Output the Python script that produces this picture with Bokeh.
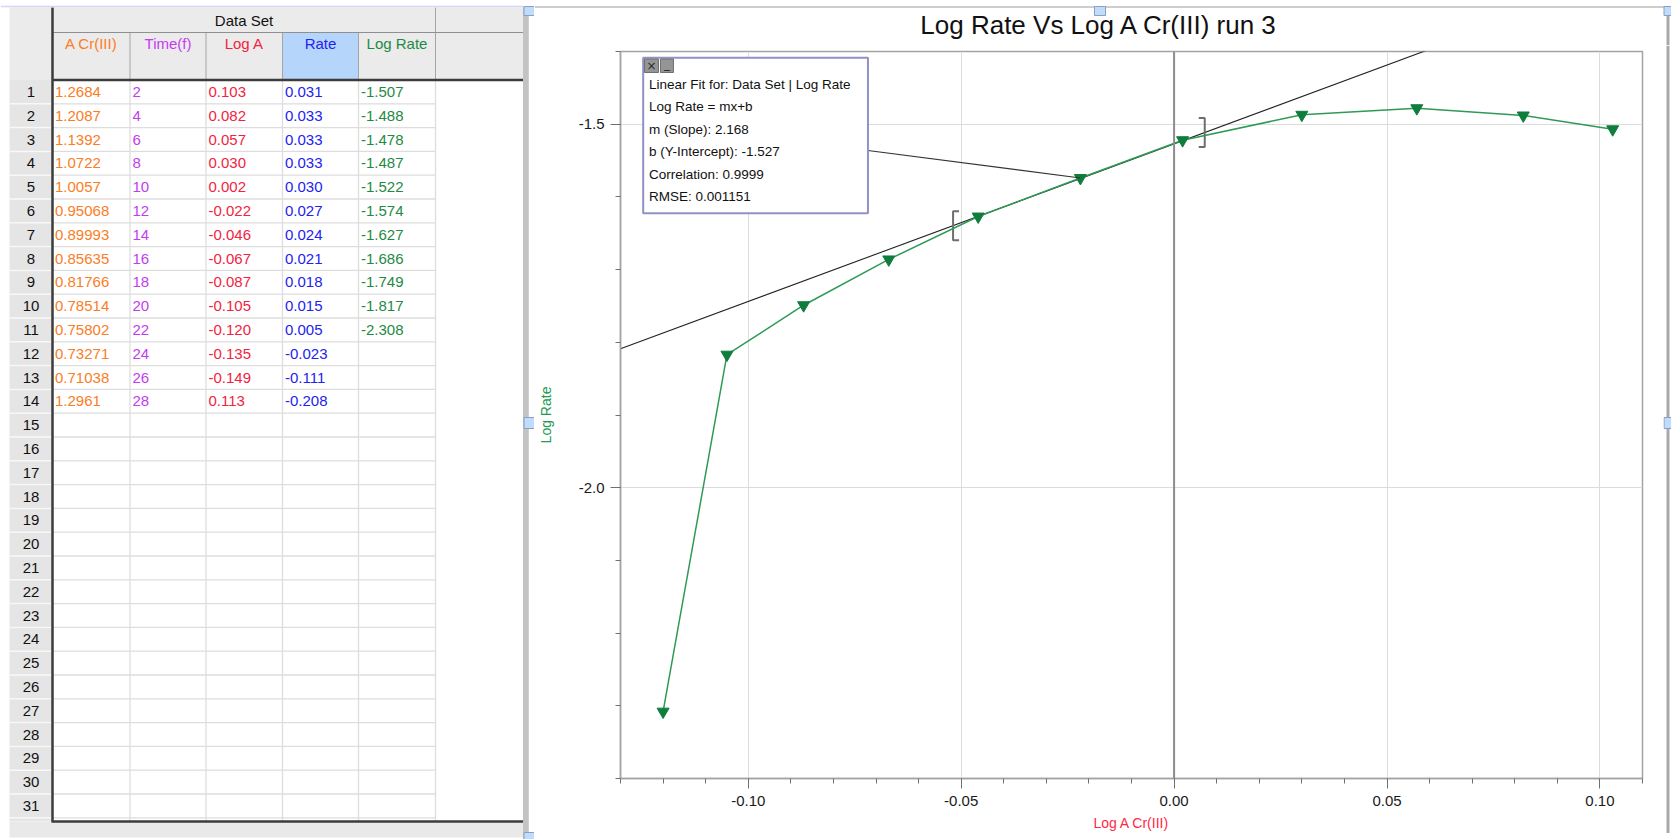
import numpy as np
from bokeh.plotting import figure
from bokeh.layouts import row, column
from bokeh.models import Range1d, FixedTicker, Span
from bokeh.core.properties import value
from bokeh.embed import file_html
from bokeh.resources import INLINE

# ---------------- data ----------------
row_numbers = list(range(1, 32))
a_cr = [1.2684, 1.2087, 1.1392, 1.0722, 1.0057, 0.95068, 0.89993, 0.85635,
        0.81766, 0.78514, 0.75802, 0.73271, 0.71038, 1.2961]
time_f = [2, 4, 6, 8, 10, 12, 14, 16, 18, 20, 22, 24, 26, 28]
log_a = [0.103, 0.082, 0.057, 0.030, 0.002, -0.022, -0.046, -0.067,
         -0.087, -0.105, -0.120, -0.135, -0.149, 0.113]
rate = [0.031, 0.033, 0.033, 0.033, 0.030, 0.027, 0.024, 0.021,
        0.018, 0.015, 0.005, -0.023, -0.111, -0.208]
log_rate = [-1.507, -1.488, -1.478, -1.487, -1.522, -1.574, -1.627,
            -1.686, -1.749, -1.817, -2.308]
column_names = ["A Cr(III)", "Time(f)", "Log A", "Rate", "Log Rate"]
column_colors = ["#fb7d24", "#c33cf2", "#f2233f", "#2323f0", "#1f8a43"]
table_title = "Data Set"

fit_slope = 2.168
fit_intercept = -1.527
fit_corr = 0.9999
fit_rmse = 0.001151
fit_range = [-0.0519, 0.0072]
fit_point = 5          # point the fit box is attached to

x_tick_values = [-0.10, -0.05, 0.00, 0.05, 0.10]
x_tick_labels = ["-0.10", "-0.05", "0.00", "0.05", "0.10"]
y_tick_values = [-2.0, -1.5]
y_tick_labels = ["-2.0", "-1.5"]

chart_title = "Log Rate Vs Log A Cr(III) run 3"
x_label = "Log A Cr(III)"
y_label = "Log Rate"

FONT = value("Liberation Sans")
H = 839
W1 = 534
W2 = 1671 - W1
HANDLE_FILL = "#c0dcfc"
HANDLE_LINE = "#8aa0be"


def canvas(width, height, x0, y0):
    """a plain figure whose coordinates are page pixels"""
    f = figure(width=width, height=height, x_range=Range1d(x0, x0 + width),
               y_range=Range1d(y0 + height, y0), output_backend="svg",
               toolbar_location=None, min_border=0, x_axis_location=None,
               y_axis_location=None, outline_line_color=None,
               background_fill_color="white", border_fill_color="white",
               frame_align=False)
    f.grid.visible = False
    return f


# ---------------- table panel ----------------
t = canvas(W1, H, 0, 0)

col_edges = [52, 129.5, 205.5, 282, 358, 435]
RH = 23.8
BT = 79.5
BB = 821

t.quad(left=[9], right=[522.5], top=[7], bottom=[BT], fill_color="#ebebeb", line_color=None)
t.quad(left=[9], right=[52], top=[BT], bottom=[BB], fill_color="#e5e5e5", line_color=None)
t.quad(left=[9], right=[522.5], top=[BB], bottom=[837], fill_color="#e9e9e9", line_color=None)
t.quad(left=[col_edges[3]], right=[col_edges[4]], top=[32], bottom=[BT],
       fill_color="#b5d5fb", line_color=None)

row_y = [BT + k * RH for k in range(1, 32)]
t.segment(x0=[52] * len(row_y), y0=row_y, x1=[435] * len(row_y), y1=row_y,
          line_color="#dddddd", line_width=1.3)
t.segment(x0=[9] * len(row_y), y0=row_y, x1=[52] * len(row_y), y1=row_y,
          line_color="#f8f8f8", line_width=1.5)
t.segment(x0=col_edges[1:], y0=[BT] * 5, x1=col_edges[1:], y1=[BB] * 5,
          line_color="#dddddd", line_width=1.3)
t.segment(x0=col_edges[1:5], y0=[32] * 4, x1=col_edges[1:5], y1=[BT] * 4,
          line_color="#a5a5a5", line_width=1)
t.segment(x0=[435], y0=[7], x1=[435], y1=[BT], line_color="#a5a5a5", line_width=1)
t.segment(x0=[52], y0=[32], x1=[522.5], y1=[32], line_color="#8f8f8f", line_width=1.2)
t.segment(x0=[52, 52], y0=[BT, BB], x1=[522.5, 522.5], y1=[BT, BB],
          line_color="#3c3c3c", line_width=2.5)
t.segment(x0=[52], y0=[7], x1=[52], y1=[BB + 1], line_color="#3c3c3c", line_width=2.5)
t.segment(x0=[0], y0=[6], x1=[522.5], y1=[6], line_color="#d4d4f4", line_width=1.5)

t.quad(left=[522.5], right=[528.3], top=[6], bottom=[H], fill_color="#c3c3c3", line_color=None)
t.segment(x0=[528.3, 528.3], y0=[6.5, 837.5], x1=[W1, W1], y1=[6.5, 837.5],
          line_color="#bdbdbd", line_width=1.5)
for (hy0, hy1) in [(6, 15), (417, 428), (832, 839)]:
    t.quad(left=[523.5], right=[534], top=[hy0], bottom=[hy1],
           fill_color=HANDLE_FILL, line_color=HANDLE_LINE, line_width=1)

t.text(x=[(col_edges[0] + col_edges[5]) / 2], y=[19.5], text=[table_title],
       text_font=FONT, text_font_size="15px", text_color="#111111",
       text_align="center", text_baseline="middle")
centers = [(col_edges[i] + col_edges[i + 1]) / 2 for i in range(5)]
t.text(x=centers, y=[43] * 5, text=column_names, text_color=column_colors,
       text_font=FONT, text_font_size="15px", text_align="center", text_baseline="middle")
t.text(x=[30.5] * len(row_numbers), y=[BT + (k - 0.5) * RH for k in row_numbers],
       text=[str(k) for k in row_numbers], text_font=FONT, text_font_size="15px",
       text_color="#111111", text_align="center", text_baseline="middle")

columns_text = [
    [f"{v:.5g}" for v in a_cr],
    [f"{v:d}" for v in time_f],
    [f"{v:.3f}" for v in log_a],
    [f"{v:.3f}" for v in rate],
    [f"{v:.3f}" for v in log_rate],
]
for ci, vals in enumerate(columns_text):
    t.text(x=[col_edges[ci] + 2.5] * len(vals),
           y=[BT + (k + 0.5) * RH for k in range(len(vals))],
           text=vals, text_color=column_colors[ci], text_font=FONT,
           text_font_size="15px", text_align="left", text_baseline="middle")

# ---------------- chart panel: top strip with title ----------------
TOP_H = 45
BOT_Y = 833
RIGHT_X = 1663

top = canvas(W2, TOP_H, W1, 0)
top.text(x=[1099], y=[24], text=[chart_title], text_font=FONT, text_font_size="26px",
         text_color="#111111", text_align="center", text_baseline="middle")
top.segment(x0=[W1], y0=[6.5], x1=[1668], y1=[6.5], line_color="#bdbdbd", line_width=1.5)
top.quad(left=[1666], right=[1669], top=[6], bottom=[TOP_H], fill_color="#a9a9a9", line_color=None)
top.quad(left=[1094, 1663.5], right=[1105, 1671], top=[6, 6], bottom=[15, 15],
         fill_color=HANDLE_FILL, line_color=HANDLE_LINE, line_width=1)

# ---------------- chart ----------------
XMIN, XMAX = -0.13, 0.11
YMIN, YMAX = -2.40, -1.40
FL, FR, FT, FB = 619, 1642, 51, 778


def dx(px):
    return XMIN + (px - FL) * (XMAX - XMIN) / (FR - FL)


def dy(py):
    return YMAX - (py - FT) * (YMAX - YMIN) / (FB - FT)


p = figure(width=RIGHT_X - W1, height=BOT_Y - TOP_H,
           x_range=Range1d(XMIN, XMAX), y_range=Range1d(YMIN, YMAX),
           output_backend="svg", toolbar_location=None,
           min_border_left=FL - W1, min_border_right=RIGHT_X - FR,
           min_border_top=FT - TOP_H, min_border_bottom=BOT_Y - FB,
           background_fill_color="white", border_fill_color="white",
           frame_align=False)

p.outline_line_color = "#a3a3a3"
p.outline_line_width = 1.5

p.xaxis.ticker = FixedTicker(ticks=x_tick_values,
                             minor_ticks=[round(v, 2) for v in np.arange(-0.13, 0.1101, 0.01)])
p.yaxis.ticker = FixedTicker(ticks=y_tick_values,
                             minor_ticks=[round(v, 1) for v in np.arange(-2.4, -1.3999, 0.1)])
p.xaxis.major_label_overrides = dict(zip(x_tick_values, x_tick_labels))
p.yaxis.major_label_overrides = dict(zip(y_tick_values, y_tick_labels))

for ax in (p.xaxis[0], p.yaxis[0]):
    ax.major_tick_out = 10
    ax.major_tick_in = 0
    ax.minor_tick_out = 5
    ax.minor_tick_in = 0
    ax.major_tick_line_color = "#707070"
    ax.minor_tick_line_color = "#707070"
    ax.axis_line_color = "#a3a3a3"
    ax.axis_line_width = 1.5
    ax.major_label_text_font = "Liberation Sans"
    ax.major_label_text_font_size = "15px"
    ax.major_label_text_color = "#1a1a1a"
    ax.axis_label_text_font = "Liberation Sans"
    ax.axis_label_text_font_size = "14px"
    ax.axis_label_text_font_style = "normal"

p.xaxis.axis_label = x_label
p.xaxis.axis_label_text_color = "#ff2845"
p.xaxis.major_label_standoff = 7
p.xaxis.axis_label_standoff = 6
p.yaxis.axis_label = y_label
p.yaxis.axis_label_text_color = "#229a4f"
p.yaxis.major_label_standoff = 6
p.yaxis.axis_label_standoff = 22

p.xgrid.grid_line_color = "#dcdcdc"
p.ygrid.grid_line_color = "#dcdcdc"
p.add_layout(Span(location=0, dimension="height", line_color="#8c8c8c", line_width=2))

# linear fit line
fx = np.array([XMIN, XMAX])
p.line(fx, fit_slope * fx + fit_intercept, line_color="#222222", line_width=1.1)

# fit range brackets
bh = (YMAX - YMIN) * 14.5 / (FB - FT)
bs = (XMAX - XMIN) * 6 / (FR - FL)
bx0, bx1 = fit_range
by0 = fit_slope * bx0 + fit_intercept
by1 = fit_slope * bx1 + fit_intercept
p.multi_line(xs=[[bx0 + bs, bx0, bx0, bx0 + bs], [bx1 - bs, bx1, bx1, bx1 - bs]],
             ys=[[by0 + bh, by0 + bh, by0 - bh, by0 - bh], [by1 + bh, by1 + bh, by1 - bh, by1 - bh]],
             line_color="#6e6e6e", line_width=2)

# data
n = len(log_rate)
p.line(log_a[:n], log_rate, line_color="#2e9a56", line_width=1.5)
p.scatter(log_a[:n], log_rate, marker="inverted_triangle", size=12,
          fill_color="#0f7d3c", line_color="#0f7d3c")

# fit information box
p.segment(x0=[dx(866.7)], y0=[dy(150)], x1=[log_a[fit_point]], y1=[log_rate[fit_point]],
          line_color="#333333", line_width=1.2)
p.quad(left=[dx(641.7)], right=[dx(866.7)], top=[dy(57.3)], bottom=[dy(212.7)],
       fill_color="white", line_color="#9191c6", line_width=2)
p.quad(left=[dx(643), dx(659)], right=[dx(657), dx(672)], top=[dy(58.5)] * 2,
       bottom=[dy(72)] * 2, fill_color="#959595", line_color="#6f6f6f", line_width=1)
p.text(x=[dx(650), dx(665.5)], y=[dy(65), dy(63)], text=["×", "_"], text_color="#2a2a2a",
       text_font=value("DejaVu Sans"), text_font_size="12px",
       text_align="center", text_baseline="middle")
box_lines = [
    f"Linear Fit for: {table_title} | {y_label}",
    f"{y_label} = mx+b",
    f"m (Slope): {fit_slope:.3f}",
    f"b (Y-Intercept): {fit_intercept:.3f}",
    f"Correlation: {fit_corr:.4f}",
    f"RMSE: {fit_rmse:.6f}",
]
p.text(x=[dx(647.5)] * len(box_lines), y=[dy(83.5 + 22.5 * i) for i in range(len(box_lines))],
       text=box_lines, text_font=FONT, text_font_size="13.5px", text_color="#111111",
       text_align="left", text_baseline="middle")

# ---------------- chart panel: right and bottom strips ----------------
right = canvas(1671 - RIGHT_X, BOT_Y - TOP_H, RIGHT_X, TOP_H)
right.quad(left=[1666], right=[1669], top=[TOP_H], bottom=[BOT_Y], fill_color="#a9a9a9", line_color=None)
right.quad(left=[1663.5], right=[1671], top=[417], bottom=[428],
           fill_color=HANDLE_FILL, line_color=HANDLE_LINE, line_width=1)

bot = canvas(W2, H - BOT_Y, W1, BOT_Y)
bot.segment(x0=[W1], y0=[837], x1=[1668], y1=[837], line_color="#a6a6a6", line_width=2)
bot.quad(left=[1666], right=[1669], top=[BOT_Y], bottom=[838], fill_color="#a9a9a9", line_color=None)
bot.quad(left=[1094, 1663.5], right=[1105, 1671], top=[BOT_Y - 1, BOT_Y - 1], bottom=[H + 1, H + 1],
         fill_color=HANDLE_FILL, line_color=HANDLE_LINE, line_width=1)

layout = row(t, column(top, row(p, right), bot))
open("out.html", "w").write(file_html(layout, INLINE))
